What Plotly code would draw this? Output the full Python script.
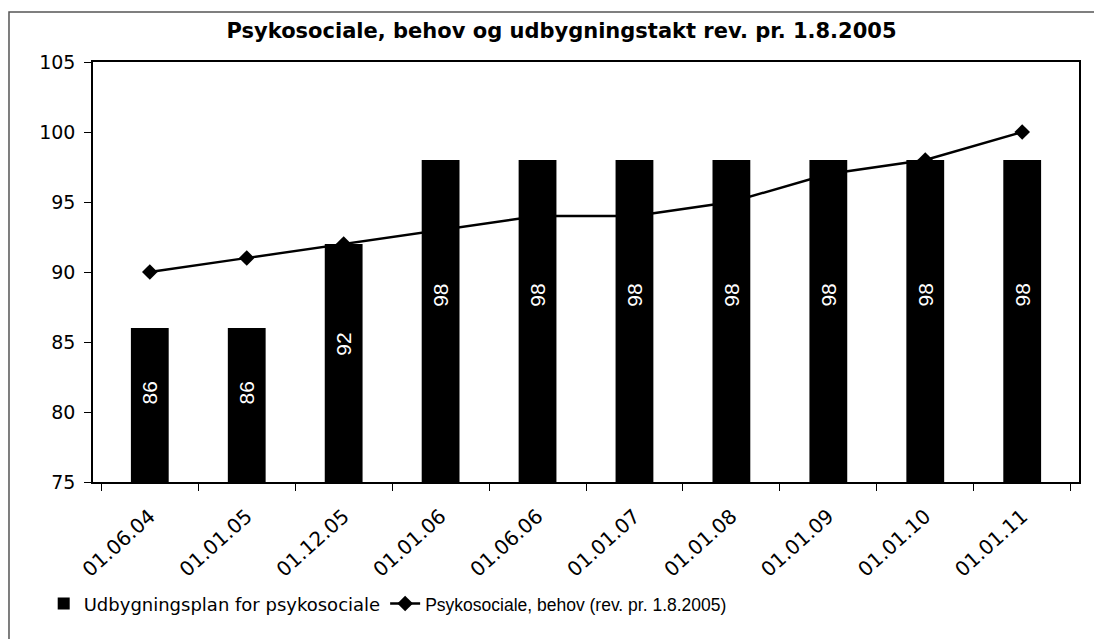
import plotly.graph_objects as go

categories = ["01.06.04", "01.01.05", "01.12.05", "01.01.06", "01.06.06",
              "01.01.07", "01.01.08", "01.01.09", "01.01.10", "01.01.11"]
plan_values = [86, 86, 92, 98, 98, 98, 98, 98, 98, 98]
need_values = [90, 91, 92, 93, 94, 94, 95, 97, 98, 100]
y_ticks = [75, 80, 85, 90, 95, 100, 105]

FONT = "DejaVu Sans, Arial, sans-serif"
LAB_FONT = "Liberation Sans, Arial, sans-serif"
y_min, y_max = 75, 105

fig = go.Figure()

# line (drawn underneath the bars, as in the reference)
fig.add_trace(go.Scatter(
    x=categories, y=need_values, mode="lines+markers",
    name="<span style='font-family:Liberation Sans, Arial, sans-serif;font-size:17.5px'>"
         "Psykosociale, behov (rev. pr. 1.8.2005)</span>",
    line=dict(color="black", width=2.4),
    marker=dict(symbol="diamond", size=12, color="black"),
    yaxis="y", legendrank=2,
))

# bars on an overlaying axis so they sit above the line
fig.add_trace(go.Bar(
    x=categories, y=plan_values, name="Udbygningsplan for psykosociale",
    marker=dict(color="black", line=dict(width=0)),
    yaxis="y2", legendrank=1,
))

annotations = []
for c, v in zip(categories, plan_values):
    annotations.append(dict(
        x=c, y=y_min + 0.58 * (v - y_min), xref="x", yref="y2",
        text=str(v), showarrow=False, textangle=-90,
        font=dict(family=LAB_FONT, size=21, color="white"),
    ))

fig.update_layout(
    width=1094, height=631,
    paper_bgcolor="white", plot_bgcolor="white",
    margin=dict(l=85, r=23, t=54, b=157),
    title=dict(text="<b>Psykosociale, behov og udbygningstakt rev. pr. 1.8.2005</b>",
               x=0.506, xref="container", y=0.9635, yref="container",
               xanchor="center", yanchor="middle",
               font=dict(family=FONT, size=21, color="black")),
    font=dict(family=FONT, color="black"),
    bargap=0.61,
    showlegend=True,
    legend=dict(orientation="h", x=-0.050, xanchor="left", y=-0.29, yanchor="middle",
                font=dict(family=FONT, size=18, color="black"),
                bgcolor="rgba(0,0,0,0)", traceorder="normal"),
    xaxis=dict(type="category", tickangle=-42, tickson="boundaries",
               ticks="outside", ticklen=7, tickcolor="black", ticklabelstandoff=13,
               showline=True, linecolor="black", linewidth=1.5, mirror=True,
               showgrid=False, tickfont=dict(family=FONT, size=20, color="black")),
    yaxis=dict(range=[y_min, y_max], tickvals=y_ticks, ticks="outside", ticklen=7,
               tickcolor="black", showline=True, linecolor="black", linewidth=1.5,
               mirror=True, showgrid=False, zeroline=False, ticklabelstandoff=5,
               tickfont=dict(family=FONT, size=19, color="black")),
    yaxis2=dict(range=[y_min, y_max], overlaying="y", visible=False,
                showgrid=False, zeroline=False),
    annotations=annotations,
    shapes=[dict(type="rect", xref="paper", yref="paper",
                 x0=-0.0852, x1=1.019, y0=-0.39, y1=1.119,
                 line=dict(color="#555555", width=1.5), fillcolor="rgba(0,0,0,0)",
                 layer="below")],
)

fig.write_html("out.html")
